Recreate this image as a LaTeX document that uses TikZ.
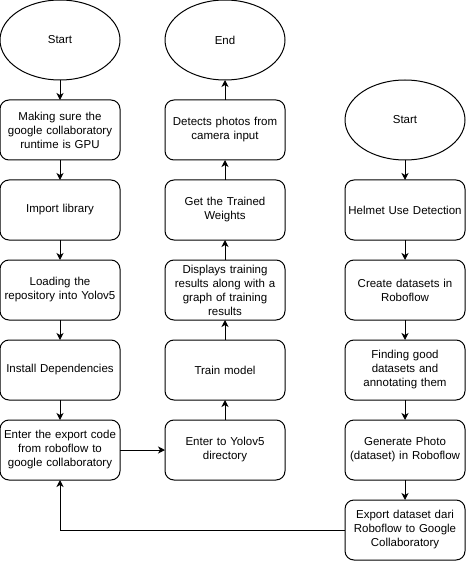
\documentclass[tikz,border=0pt]{standalone}
\usepackage{fontspec}
\setmainfont{Liberation Sans}
\usetikzlibrary{positioning,arrows.meta,shapes.geometric}
\hyphenpenalty=10000

\tikzset{
    txt/.style={font=\fontsize{11.5}{14}\selectfont},
    stepbox/.style={txt, draw, line width=1pt, rounded corners=9pt,
        minimum width=120pt, minimum height=60pt, text width=118pt,
        inner sep=1pt, outer sep=0pt, align=center},
    term/.style={txt, draw, line width=1pt, ellipse, outer sep=0pt,
        minimum width=120pt, minimum height=80pt, inner sep=0pt},
    flow/.style={line width=1pt, -{Stealth[length=7pt,width=7pt,inset=2pt]}},
}

\begin{document}
\begin{tikzpicture}[x=1pt, y=1pt, node distance=20pt]
    \useasboundingbox (0,0) rectangle (466,-561);

    % left column
    \node[term] (start) at (60,-40) {Start};
    \node[stepbox, below=of start] (gpu) {Making sure the\\ google collaboratory\\ runtime is GPU};
    \node[stepbox, below=of gpu] (import) {Import library};
    \node[stepbox, below=of import] (repo) {Loading the\\ repository into Yolov5};
    \node[stepbox, below=of repo] (deps) {Install Dependencies};
    \node[stepbox, below=of deps] (code) {Enter the export code\\ from roboflow to\\ google collaboratory};

    % middle column
    \node[stepbox] (yolo) at (225,-450) {Enter to Yolov5\\ directory};
    \node[stepbox, above=of yolo] (train) {Train model};
    \node[stepbox, above=of train] (results) {Displays training\\ results along with a\\ graph of training\\ results};
    \node[stepbox, above=of results] (weights) {Get the Trained\\ Weights};
    \node[stepbox, above=of weights] (detect) {Detects photos from\\ camera input};
    \node[term, above=of detect] (end) {End};

    % right column
    \node[term] (start2) at (405,-120) {Start};
    \node[stepbox, below=of start2] (helmet) {Helmet Use Detection};
    \node[stepbox, below=of helmet] (create) {Create datasets in\\ Roboflow};
    \node[stepbox, below=of create] (annot) {Finding good\\ datasets and\\ annotating them};
    \node[stepbox, below=of annot] (gen) {Generate Photo\\ (dataset) in Roboflow};
    \node[stepbox, below=of gen] (export) {Export dataset dari\\ Roboflow to Google\\ Collaboratory};

    \draw[flow] (start) -- (gpu);
    \draw[flow] (gpu) -- (import);
    \draw[flow] (import) -- (repo);
    \draw[flow] (repo) -- (deps);
    \draw[flow] (deps) -- (code);
    \draw[flow] (code) -- (yolo);
    \draw[flow] (yolo) -- (train);
    \draw[flow] (train) -- (results);
    \draw[flow] (results) -- (weights);
    \draw[flow] (weights) -- (detect);
    \draw[flow] (detect) -- (end);

    \draw[flow] (start2) -- (helmet);
    \draw[flow] (helmet) -- (create);
    \draw[flow] (create) -- (annot);
    \draw[flow] (annot) -- (gen);
    \draw[flow] (gen) -- (export);
    \draw[flow] (export.west) -| (code.south);
\end{tikzpicture}
\end{document}
